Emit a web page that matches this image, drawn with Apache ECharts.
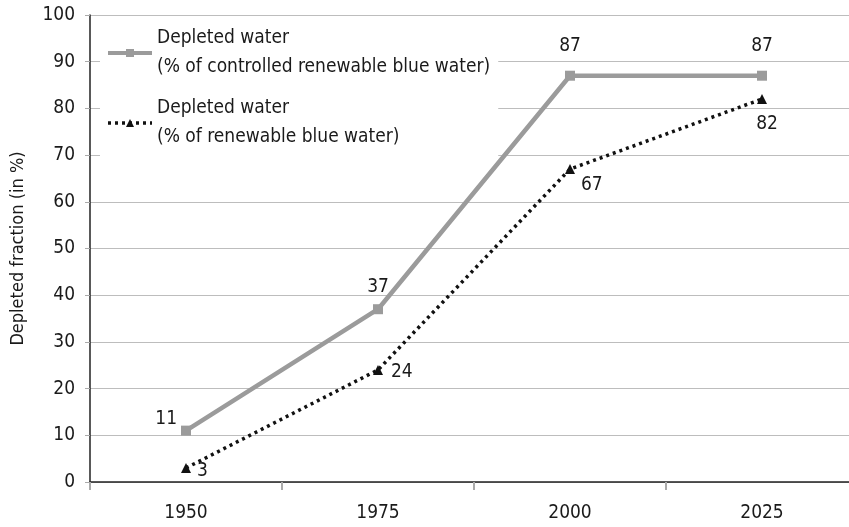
<!DOCTYPE html>
<html><head><meta charset="utf-8">
<script src="https://cdn.jsdelivr.net/npm/echarts@6/dist/echarts.min.js"></script>
<style>html,body{margin:0;padding:0;background:#fff}#c{width:849px;height:527px}</style>
</head><body><div id="c"></div>
<script>
const years = ['1950','1975','2000','2025'];
const controlled = [11, 37, 87, 87];
const renewable = [3, 24, 67, 82];
const yTicks = [0,10,20,30,40,50,60,70,80,90,100];
const name1 = 'Depleted water\n(% of controlled renewable blue water)';
const name2 = 'Depleted water\n(% of renewable blue water)';
const FF = '"DejaVu Sans Condensed","Liberation Sans Narrow",sans-serif';

const lab1Pos = [{position:'left', offset:[4,-12]}, {position:'top'}, {position:'top', offset:[0,-7]}, {position:'top', offset:[0,-7]}];
const lab2Pos = [{position:'right', offset:[0,3]}, {position:'right', offset:[2,2]}, {position:'right', offset:[0,16]}, {position:'bottom', offset:[5,5]}];

const chart = echarts.init(document.getElementById('c'));
chart.setOption({
  animation:false,
  textStyle:{fontFamily:FF},
  grid:{left:90, top:15, width:768, bottom:45, containLabel:false, outerBoundsMode:'none'},
  legend:{
    orient:'vertical', left:100, top:20, itemGap:12, z:1,
    itemWidth:44, itemHeight:10,
    backgroundColor:'#fff', padding:[4,8,6,6],
    textStyle:{fontFamily:FF, fontSize:19, color:'#1a1a1a', lineHeight:29},
    data:[
      {name:name1, lineStyle:{width:4, color:'#9b9b9b'}},
      {name:name2, lineStyle:{width:3.5, color:'#111', type:[3,4]}}
    ]
  },
  xAxis:{
    type:'category', data:years, boundaryGap:true,
    axisLine:{lineStyle:{color:'#222', width:1.5}},
    axisTick:{show:true, length:8, lineStyle:{color:'#aaa', width:2}},
    axisLabel:{fontFamily:FF, fontSize:19, color:'#1a1a1a', margin:22}
  },
  yAxis:{
    type:'value', min:0, max:100, interval:10,
    name:'Depleted fraction (in %)', nameLocation:'middle', nameGap:63, nameRotate:90,
    nameTextStyle:{fontFamily:FF, fontSize:18, color:'#1a1a1a'},
    axisLine:{show:true, lineStyle:{color:'#222', width:1.5}},
    axisTick:{show:true, length:5, lineStyle:{color:'#aaa'}},
    axisLabel:{fontFamily:FF, fontSize:19, color:'#1a1a1a', margin:15,
      formatter:v=>yTicks.includes(v)?String(v):''},
    splitLine:{lineStyle:{color:'#bdbdbd', width:1}}
  },
  series:[
    {
      name:name1, type:'line', z:3,
      data:controlled.map((v,i)=>({value:v, label:lab1Pos[i]})),
      symbol:'rect', symbolSize:10,
      lineStyle:{color:'#9b9b9b', width:4.5},
      itemStyle:{color:'#9b9b9b'},
      label:{show:true, fontFamily:FF, fontSize:19, color:'#1a1a1a', distance:8}
    },
    {
      name:name2, type:'line', z:4,
      data:renewable.map((v,i)=>({value:v, label:lab2Pos[i]})),
      symbol:'triangle', symbolSize:10,
      lineStyle:{color:'#111', width:3.5, type:[3,4]},
      itemStyle:{color:'#111'},
      label:{show:true, fontFamily:FF, fontSize:19, color:'#1a1a1a', distance:6}
    }
  ]
});
</script></body></html>
